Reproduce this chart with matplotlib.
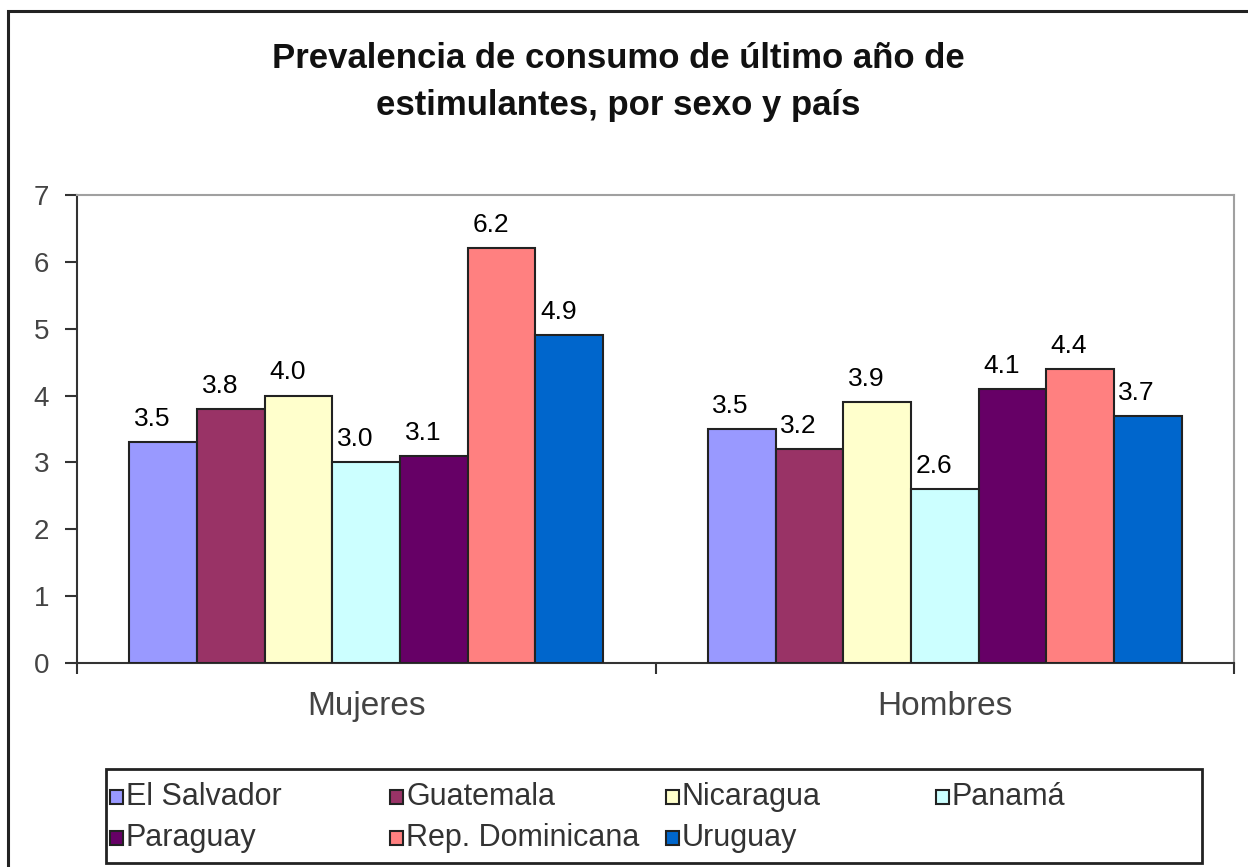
import matplotlib
matplotlib.use('Agg')
import matplotlib.pyplot as plt
from matplotlib.patches import Rectangle
import numpy as np

# data
groups = ['Mujeres', 'Hombres']
countries = ['El Salvador', 'Guatemala', 'Nicaragua', 'Panamá',
             'Paraguay', 'Rep. Dominicana', 'Uruguay']
mujeres = [3.3, 3.8, 4.0, 3.0, 3.1, 6.2, 4.9]
hombres = [3.5, 3.2, 3.9, 2.6, 4.1, 4.4, 3.7]
mujeres_labels = ['3.5', '3.8', '4.0', '3.0', '3.1', '6.2', '4.9']
hombres_labels = ['3.5', '3.2', '3.9', '2.6', '4.1', '4.4', '3.7']
colors = ['#9999FF', '#993366', '#FFFFCC', '#CCFFFF', '#660066', '#FF8080', '#0066CC']

W, H = 1248, 867
fig = plt.figure(figsize=(W / 100, H / 100), dpi=100)
fig.patch.set_facecolor('white')

# outer frame of the chart
fig.patches.append(Rectangle((8 / W, -0.05), 1.1, 1 - 11 / H + 0.05,
                             transform=fig.transFigure, fill=False,
                             edgecolor='#222222', linewidth=2.2))

ax = fig.add_axes([77 / W, 1 - 663 / H, (1234 - 77) / W, (663 - 195) / H])

n = len(countries)
bw = 0.117
x = np.arange(len(groups)) + 0.5
values = np.array([mujeres, hombres])
labels = [mujeres_labels, hombres_labels]

for i in range(n):
    pos = x - bw * n / 2 + bw * (i + 0.5)
    bars = ax.bar(pos, values[:, i], width=bw, color=colors[i],
                  edgecolor='#222222', linewidth=1.5, zorder=3)
    for j, b in enumerate(bars):
        ax.annotate(labels[j][i], (b.get_x() + b.get_width() / 2, b.get_height()),
                    xytext=(-8, 8), textcoords='offset points',
                    ha='center', va='bottom', fontsize=19,
                    family='Liberation Sans', color='black')

ax.set_xlim(0, 2)
ax.set_ylim(0, 7)
ax.set_yticks(range(0, 8))
ax.set_xticks([0, 1, 2])
ax.set_xticklabels([])
ax.set_xticks(x, minor=True)
ax.set_xticklabels(groups, minor=True)
ax.tick_params(axis='x', which='minor', length=0, pad=20,
               labelsize=24, labelcolor='#444444')
ax.tick_params(axis='x', which='major', length=8, width=1.5,
               direction='out', color='#333333')
ax.tick_params(axis='y', length=9, width=1.5, direction='out',
               color='#333333', labelsize=20, labelcolor='#444444', pad=11)
for lab in ax.get_yticklabels() + ax.get_xticklabels(minor=True):
    lab.set_family('Liberation Sans')

ax.spines['left'].set_color('#333333')
ax.spines['bottom'].set_color('#333333')
ax.spines['left'].set_linewidth(1.5)
ax.spines['bottom'].set_linewidth(1.5)
ax.spines['top'].set_color('#A0A0A0')
ax.spines['right'].set_color('#A0A0A0')
ax.spines['top'].set_linewidth(1.5)
ax.spines['right'].set_linewidth(1.5)

fig.text(618 / W, 1 - 82 / H,
         'Prevalencia de consumo de último año de\nestimulantes, por sexo y país',
         ha='center', va='center', fontsize=25, fontweight='bold',
         family='Liberation Sans', color='#111111', linespacing=1.5)

# legend box
lx0, ly0, lx1, ly1 = 106, 769, 1202, 863
fig.patches.append(Rectangle((lx0 / W, 1 - ly1 / H), (lx1 - lx0) / W, (ly1 - ly0) / H,
                             transform=fig.transFigure, fill=False,
                             edgecolor='#222222', linewidth=2))
col_x = [110, 390, 666, 936]
row_y = [797, 838]
for i, name in enumerate(countries):
    cx = col_x[i % 4]
    cy = row_y[i // 4]
    fig.patches.append(Rectangle((cx / W, 1 - (cy + 7) / H), 13 / W, 14 / H,
                                 transform=fig.transFigure, facecolor=colors[i],
                                 edgecolor='#222222', linewidth=1.5))
    fig.text((cx + 16) / W, 1 - cy / H, name, ha='left', va='center',
             fontsize=22, family='Liberation Sans', color='#333333')

fig.savefig('out.png', dpi=100)
